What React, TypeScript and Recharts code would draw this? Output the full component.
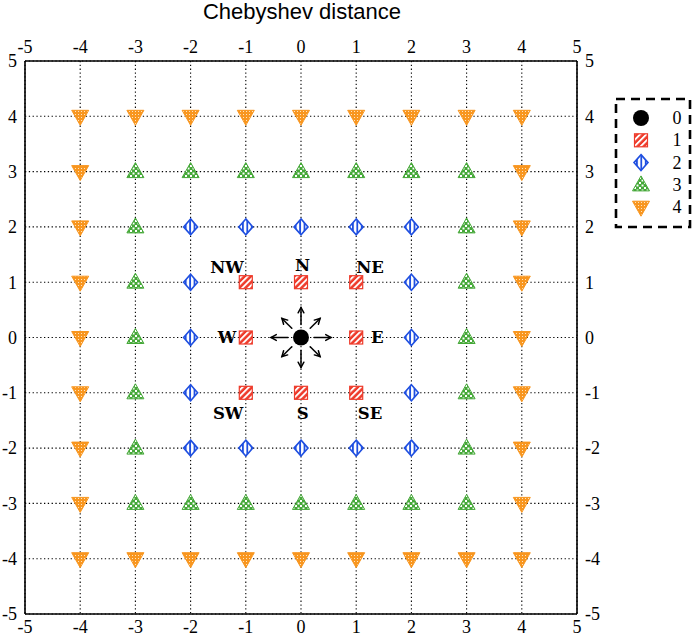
import React from 'react';
import { ScatterChart, Scatter, XAxis, YAxis, CartesianGrid } from 'recharts';

const TITLE = 'Chebyshev distance';
const TICKS = [-5, -4, -3, -2, -1, 0, 1, 2, 3, 4, 5];
const DOMAIN: [number, number] = [-5, 5];

const SERIES_NAMES = ['0', '1', '2', '3', '4'];

const dist0: number[][] = [[0, 0]];
const dist1: number[][] = [
  [-1, 1], [0, 1], [1, 1],
  [-1, 0], [1, 0],
  [-1, -1], [0, -1], [1, -1],
];
const dist2: number[][] = [
  [-2, 2], [-1, 2], [0, 2], [1, 2], [2, 2],
  [-2, 1], [2, 1],
  [-2, 0], [2, 0],
  [-2, -1], [2, -1],
  [-2, -2], [-1, -2], [0, -2], [1, -2], [2, -2],
];
const dist3: number[][] = [
  [-3, 3], [-2, 3], [-1, 3], [0, 3], [1, 3], [2, 3], [3, 3],
  [-3, 2], [3, 2],
  [-3, 1], [3, 1],
  [-3, 0], [3, 0],
  [-3, -1], [3, -1],
  [-3, -2], [3, -2],
  [-3, -3], [-2, -3], [-1, -3], [0, -3], [1, -3], [2, -3], [3, -3],
];
const dist4: number[][] = [
  [-4, 4], [-3, 4], [-2, 4], [-1, 4], [0, 4], [1, 4], [2, 4], [3, 4], [4, 4],
  [-4, 3], [4, 3],
  [-4, 2], [4, 2],
  [-4, 1], [4, 1],
  [-4, 0], [4, 0],
  [-4, -1], [4, -1],
  [-4, -2], [4, -2],
  [-4, -3], [4, -3],
  [-4, -4], [-3, -4], [-2, -4], [-1, -4], [0, -4], [1, -4], [2, -4], [3, -4], [4, -4],
];

const dirLabels = [
  { x: -1.34, y: 1.27, t: 'NW' },
  { x: 0.03, y: 1.3, t: 'N' },
  { x: 1.25, y: 1.27, t: 'NE' },
  { x: -1.34, y: 0, t: 'W' },
  { x: 1.38, y: 0, t: 'E' },
  { x: -1.32, y: -1.37, t: 'SW' },
  { x: 0.03, y: -1.37, t: 'S' },
  { x: 1.25, y: -1.37, t: 'SE' },
];

const RED = '#ee3a2a';
const BLUE = '#1f4fe0';
const GREEN = '#45a838';
const ORANGE = '#f8961f';

const toPts = (a: number[][]) => a.map(([x, y]) => ({ x, y }));
const allSeries = [dist0, dist1, dist2, dist3, dist4].map(toPts);

function Arrow({ cx, cy, dx, dy, r0, r1 }: any) {
  const x0 = cx + dx * r0, y0 = cy + dy * r0;
  const x1 = cx + dx * r1, y1 = cy + dy * r1;
  const ang = Math.atan2(dy, dx);
  const h = 6, a = 0.5;
  const hx1 = x1 - h * Math.cos(ang - a), hy1 = y1 - h * Math.sin(ang - a);
  const hx2 = x1 - h * Math.cos(ang + a), hy2 = y1 - h * Math.sin(ang + a);
  return (
    <g stroke="#000" strokeWidth={1.5} fill="none" strokeLinecap="round">
      <line x1={x0} y1={y0} x2={x1} y2={y1} />
      <polyline points={`${hx1},${hy1} ${x1},${y1} ${hx2},${hy2}`} />
    </g>
  );
}

function Marker({ kind, cx, cy, compass }: any) {
  if (kind === 0) {
    const d = Math.SQRT1_2;
    const dirs = [
      [0, -1, 13, 30], [1, 0, 13, 30], [0, 1, 13, 30], [-1, 0, 13, 30],
      [d, -d, 13, 27], [d, d, 13, 27], [-d, d, 13, 27], [-d, -d, 13, 27],
    ];
    return (
      <g>
        <circle cx={cx} cy={cy} r={8} fill="#000" />
        {compass && dirs.map((v, i) => (
          <Arrow key={i} cx={cx} cy={cy} dx={v[0]} dy={v[1]} r0={v[2]} r1={v[3]} />
        ))}
      </g>
    );
  }
  if (kind === 1) {
    return <rect x={cx - 6.5} y={cy - 6.5} width={13} height={13} fill="url(#pRed)" stroke={RED} strokeWidth={1.2} />;
  }
  if (kind === 2) {
    return <path d={`M${cx},${cy - 8}L${cx + 7},${cy}L${cx},${cy + 8}L${cx - 7},${cy}Z`} fill="url(#pBlue)" stroke={BLUE} strokeWidth={1.6} />;
  }
  if (kind === 3) {
    return <path d={`M${cx},${cy - 9}L${cx + 8.5},${cy + 6}L${cx - 8.5},${cy + 6}Z`} fill="url(#pGreen)" stroke={GREEN} strokeWidth={1} />;
  }
  return <path d={`M${cx - 8.5},${cy - 6}L${cx + 8.5},${cy - 6}L${cx},${cy + 9}Z`} fill="url(#pOrange)" stroke={ORANGE} strokeWidth={1} />;
}

const tickStyle = { fontFamily: '"Liberation Serif", serif', fontSize: 18, fill: '#000' };
const axisLine = { stroke: '#000', strokeWidth: 1.6 };

export default function App() {
  return (
    <div style={{ position: 'absolute', left: 0, top: 0, width: 692, height: 638, background: '#fff' }}>
      <svg width={0} height={0} style={{ position: 'absolute' }}>
        <defs>
          <pattern id="pRed" patternUnits="userSpaceOnUse" width={4.4} height={4.4} patternTransform="rotate(45)">
            <rect width={4.4} height={4.4} fill={RED} />
            <rect width={1.9} height={4.4} fill="#fff" />
          </pattern>
          <pattern id="pBlue" patternUnits="userSpaceOnUse" width={4.4} height={4.4}>
            <rect width={4.4} height={4.4} fill="#fff" />
            <rect width={1.8} height={4.4} fill={BLUE} />
          </pattern>
          <pattern id="pGreen" patternUnits="userSpaceOnUse" width={5} height={5}>
            <rect width={5} height={5} fill={GREEN} />
            <rect x={0} y={0} width={2} height={2} fill="#fff" />
            <rect x={2.5} y={2.5} width={2} height={2} fill="#fff" />
          </pattern>
          <pattern id="pOrange" patternUnits="userSpaceOnUse" width={3} height={3}>
            <rect width={3} height={3} fill={ORANGE} />
            <rect x={0} y={0} width={1} height={1} fill="#fde3c0" />
          </pattern>
        </defs>
      </svg>
      <ScatterChart width={692} height={638} margin={{ top: 0, right: 0, bottom: 0, left: 0 }}>
        <CartesianGrid xAxisId="bottom" yAxisId="left" stroke="#000" strokeWidth={1.1} strokeDasharray="1.3 2.5" />
        <XAxis xAxisId="bottom" type="number" dataKey="x" domain={DOMAIN} ticks={TICKS} interval={0}
          orientation="bottom" height={24} tickLine={false} tickSize={0} tickMargin={6}
          axisLine={axisLine} tick={tickStyle} allowDataOverflow />
        <XAxis xAxisId="top" type="number" dataKey="x" domain={DOMAIN} ticks={TICKS} interval={0}
          orientation="top" height={61} tickLine={false} tickSize={0} tickMargin={8}
          axisLine={axisLine} tick={tickStyle} allowDataOverflow />
        <YAxis yAxisId="left" type="number" dataKey="y" domain={DOMAIN} ticks={TICKS} interval={0}
          orientation="left" width={25} tickLine={false} tickSize={0} tickMargin={8}
          axisLine={axisLine} tick={tickStyle} allowDataOverflow />
        <YAxis yAxisId="right" type="number" dataKey="y" domain={DOMAIN} ticks={TICKS} interval={0}
          orientation="right" width={115} tickLine={false} tickSize={0} tickMargin={8}
          axisLine={axisLine} tick={tickStyle} allowDataOverflow />
        {allSeries.map((data, k) => (
          <Scatter key={k} name={SERIES_NAMES[k]} data={data} xAxisId="bottom" yAxisId="left"
            isAnimationActive={false}
            shape={(p: any) => <Marker kind={k} cx={p.cx} cy={p.cy} compass />} />
        ))}
        <Scatter name="labels" data={dirLabels} xAxisId="bottom" yAxisId="left" isAnimationActive={false}
          legendType="none"
          shape={(p: any) => (
            <text x={p.cx} y={p.cy} textAnchor="middle" dominantBaseline="central"
              fontFamily='"DejaVu Serif", serif' fontWeight="bold" fontSize={16.5} fill="#000">
              {p.payload.t}
            </text>
          )} />
      </ScatterChart>
      <svg width={692} height={30} style={{ position: 'absolute', left: 0, top: 0, pointerEvents: 'none' }}>
        <text x={302} y={19} textAnchor="middle" fontFamily='"Liberation Sans", Arial, sans-serif' fontSize={22} fill="#000">{TITLE}</text>
      </svg>
      <svg width={80} height={134} style={{ position: 'absolute', left: 614, top: 97 }}>
        <rect x={2} y={2} width={74} height={128} fill="#fff" stroke="#000" strokeWidth={2.6} strokeDasharray="9 6" />
        {SERIES_NAMES.map((n, i) => (
          <g key={n}>
            <Marker kind={i} cx={27} cy={21 + i * 22.3} compass={false} />
            <text x={63} y={21 + i * 22.3} textAnchor="middle" dominantBaseline="central"
              fontFamily='"Liberation Serif", serif' fontSize={18} fill="#000">{n}</text>
          </g>
        ))}
      </svg>
    </div>
  );
}
